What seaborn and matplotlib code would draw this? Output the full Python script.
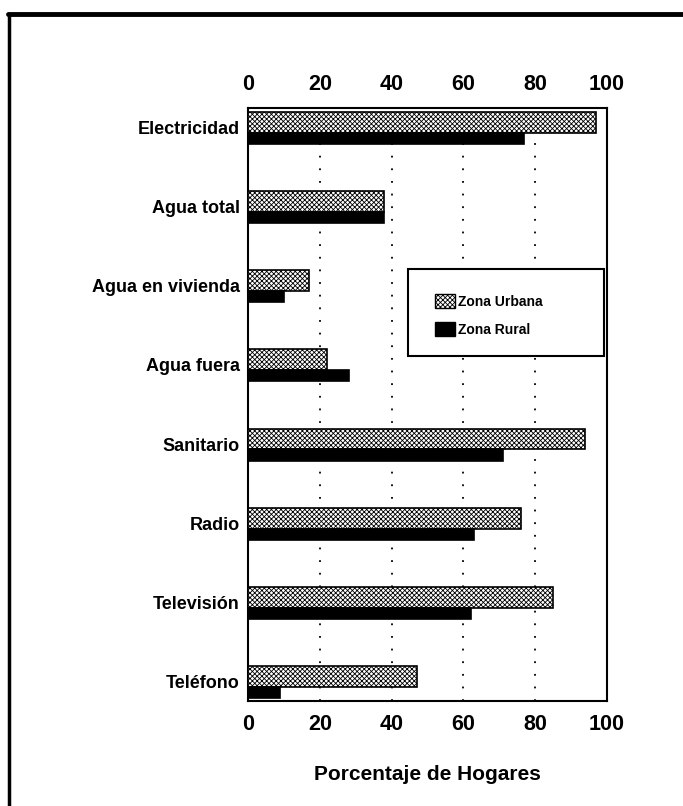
import numpy as np
import pandas as pd
import seaborn as sns
import matplotlib.pyplot as plt
from matplotlib.lines import Line2D
from matplotlib.patches import Patch, Rectangle

categories = ["Electricidad", "Agua total", "Agua en vivienda", "Agua fuera",
              "Sanitario", "Radio", "Televisión", "Teléfono"]
urbana = [97, 38, 17, 22, 94, 76, 85, 47]
rural = [77, 38, 10, 28, 71, 63, 62, 9]
series = ["Zona Urbana", "Zona Rural"]
x_ticks = [0, 20, 40, 60, 80, 100]
x_label = "Porcentaje de Hogares"

df = pd.DataFrame({
    "cat": categories * 2,
    "val": urbana + rural,
    "zona": [series[0]] * len(categories) + [series[1]] * len(categories),
})

sns.set_theme(style="white")
plt.rcParams['font.family'] = ['Liberation Sans', 'DejaVu Sans']
plt.rcParams['hatch.linewidth'] = 0.6
plt.rcParams['hatch.color'] = 'black'
plt.rcParams['text.color'] = 'black'
plt.rcParams['xtick.color'] = 'black'
plt.rcParams['ytick.color'] = 'black'
plt.rcParams['axes.labelcolor'] = 'black'

fig = plt.figure(figsize=(6.83, 8.06), dpi=100)
ax = fig.add_axes([248 / 683, 1 - 701 / 806, (607 - 248) / 683, (701 - 108) / 806])

sns.barplot(data=df, x="val", y="cat", hue="zona", orient="h",
            palette={series[0]: "white", series[1]: "black"},
            edgecolor="black", linewidth=1.2, width=0.4, dodge=True,
            saturation=1, ax=ax, legend=False, zorder=3)

# urban bars thicker with fine hatch; rural bars thinner, directly below
for bar in ax.containers[0]:
    c = round(bar.get_y() + bar.get_height() / 2)
    bar.set_y(c - 0.196)
    bar.set_height(0.265)
    bar.set_hatch('xxxxxxx')
for bar in ax.containers[1]:
    c = round(bar.get_y() + bar.get_height() / 2)
    bar.set_y(c + 0.069)
    bar.set_height(0.14)

ax.set_xlim(0, 100)
ax.set_ylim(7.25, -0.25)
ax.set_xticks(x_ticks)
ax.set_xticklabels([str(t) for t in x_ticks])
ax.tick_params(axis='x', top=True, labeltop=True, bottom=True, labelbottom=True,
               length=0, pad=9, labelsize=15.5, colors='black')
ax.tick_params(axis='y', length=0, pad=6, labelsize=13, colors='black')
for lab in ax.get_xticklabels() + ax.get_yticklabels():
    lab.set_fontweight('bold')
ax.set_ylabel("")
ax.set_xlabel(x_label, fontsize=15, fontweight='bold', va='center', color='black')
ax.xaxis.set_label_coords(0.5, (701 - 775) / 593)

ax.grid(True, axis='x', color='black', linestyle=(0, (1, 6)), linewidth=1.3)
ax.grid(False, axis='y')
ax.set_axisbelow(True)
for s in ax.spines.values():
    s.set_color('black')
    s.set_linewidth(1.5)
    s.set_visible(True)

# legend box
ax.add_patch(Rectangle((0.446, 0.582), 0.546, 0.1465, transform=ax.transAxes,
                       facecolor='white', edgecolor='black', linewidth=1.5, zorder=4))
handles = [Patch(facecolor='white', edgecolor='black', hatch='xxxxxxx', linewidth=1),
           Patch(facecolor='black', edgecolor='black')]
leg = ax.legend(handles=handles, labels=series, loc='center left',
                bbox_to_anchor=(0.485, 0.65), frameon=False,
                prop={'weight': 'bold', 'size': 10}, handlelength=1.5,
                handleheight=1.2, handletextpad=0.2, labelspacing=0.95)
leg.set_zorder(5)
for t in leg.get_texts():
    t.set_color('black')

# page frame lines
fig.add_artist(Line2D([8 / 683, 1], [1 - 14 / 806] * 2, lw=3.5, color='black'))
fig.add_artist(Line2D([9 / 683] * 2, [0, 1 - 14 / 806], lw=2.5, color='black'))

fig.savefig("out.png", dpi=100, facecolor='white')
